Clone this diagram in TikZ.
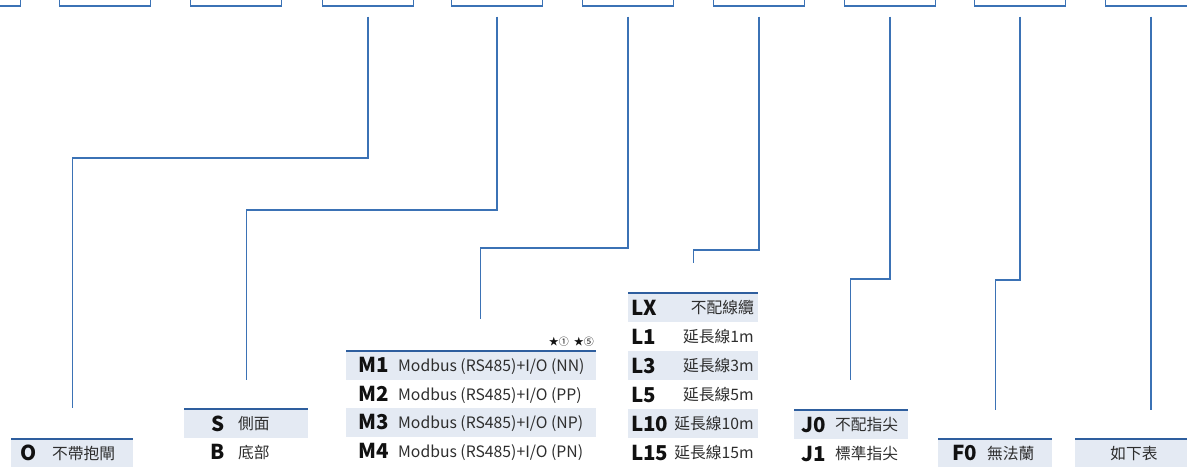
\documentclass[tikz,border=0pt]{standalone}
\usepackage{fontspec}
\newfontfamily\cjk{Noto Sans CJK TC}
\definecolor{lnblue}{HTML}{3B72B5}
\definecolor{tblue}{HTML}{2E5E9E}
\definecolor{rowbg}{HTML}{E4EAF3}
\definecolor{codec}{HTML}{111111}
\definecolor{descc}{HTML}{2E2E2E}
\begin{document}
\begin{tikzpicture}[x=1pt,y=-1pt,
  topbox/.style={draw=lnblue, line width=1.4pt, minimum width=91pt, minimum height=30pt, inner sep=0pt},
  conn/.style={draw=lnblue, line width=1.4pt},
  topline/.style={draw=tblue, line width=1.4pt},
  bgrow/.style={fill=rowbg, draw=none, inner sep=0pt, anchor=north west, minimum height=28.5pt},
  codetxt/.style={font=\cjk\bfseries\fontsize{20.5}{20.5}\selectfont, text=codec, inner sep=0pt, anchor=base west},
  desctxt/.style={font=\cjk\fontsize{15.75}{15.75}\selectfont, text=descc, inner sep=0pt, anchor=base west}
]
\useasboundingbox (0,0) rectangle (1187,467);
\clip (0,0) rectangle (1187,467);

% top boxes
\node[topbox] (b0) at (-25,-9) {};
\node[topbox] (b1) at (105,-9) {};
\node[topbox] (b2) at (236,-9) {};
\node[topbox] (b3) at (368,-9) {};
\node[topbox] (b4) at (497,-9) {};
\node[topbox] (b5) at (628,-9) {};
\node[topbox] (b6) at (759,-9) {};
\node[topbox] (b7) at (890,-9) {};
\node[topbox] (b8) at (1020,-9) {};
\node[topbox] (b9) at (1151,-9) {};

% O table
\node[bgrow, minimum width=122pt, minimum height=28pt] (tO) at (11,439) {};
\draw[topline] (tO.north west) -- (tO.north east);
\node[codetxt, anchor=base] (cO) at (29,460.5) {O};
\node[desctxt] (dO) at (52,459) {不帶抱閘};

% S/B table
\node[bgrow, minimum width=124pt] (tS) at (184,409) {};
\draw[topline] (tS.north west) -- (tS.north east);
\node[codetxt, anchor=base] (cS) at (218,431) {S};
\node[desctxt] (dS) at (238,429.5) {側面};
\node[codetxt, anchor=base] (cB) at (218,459.5) {B};
\node[desctxt] (dB) at (238,458) {底部};

% M table
\node[bgrow, minimum width=250pt] (tM1) at (346,351) {};
\node[bgrow, minimum width=250pt] (tM3) at (346,408) {};
\draw[topline] (tM1.north west) -- (tM1.north east);
\node[font=\cjk\fontsize{10}{10}\selectfont, text=codec, inner sep=0pt, anchor=base east] (stars) at (594,345) {★①\hspace{5pt}★⑤};
\node[codetxt] (cM1) at (358,372.75) {M1};
\node[desctxt] (dM1) at (398,371.5) {Modbus (RS485)+I/O (NN)};
\node[codetxt] (cM2) at (358,401.25) {M2};
\node[desctxt] (dM2) at (398,400) {Modbus (RS485)+I/O (PP)};
\node[codetxt] (cM3) at (358,429.75) {M3};
\node[desctxt] (dM3) at (398,428.5) {Modbus (RS485)+I/O (NP)};
\node[codetxt] (cM4) at (358,458.25) {M4};
\node[desctxt] (dM4) at (398,457) {Modbus (RS485)+I/O (PN)};

% L table
\node[bgrow, minimum width=130pt, minimum height=29pt] (tLX) at (628,293) {};
\node[bgrow, minimum width=130pt, minimum height=29pt] (tL3) at (628,351) {};
\node[bgrow, minimum width=130pt, minimum height=29pt] (tL10) at (628,409) {};
\draw[topline] (tLX.north west) -- (tLX.north east);
\node[codetxt] (cLX) at (631,315) {LX};
\node[desctxt, anchor=base east] (dLX) at (754,313.5) {不配線纜};
\node[codetxt] (cL1) at (631,344) {L1};
\node[desctxt, anchor=base east] (dL1) at (754,342.5) {延長線1m};
\node[codetxt] (cL3) at (631,373) {L3};
\node[desctxt, anchor=base east] (dL3) at (754,371.5) {延長線3m};
\node[codetxt] (cL5) at (631,402) {L5};
\node[desctxt, anchor=base east] (dL5) at (754,400.5) {延長線5m};
\node[codetxt] (cL10) at (631,431) {L10};
\node[desctxt, anchor=base east] (dL10) at (754,429.5) {延長線10m};
\node[codetxt] (cL15) at (631,460) {L15};
\node[desctxt, anchor=base east] (dL15) at (754,458.5) {延長線15m};

% J table
\node[bgrow, minimum width=114pt, minimum height=29pt] (tJ0) at (794,410) {};
\draw[topline] (tJ0.north west) -- (tJ0.north east);
\node[codetxt] (cJ0) at (801,432) {J0};
\node[desctxt] (dJ0) at (835,430.5) {不配指尖};
\node[codetxt] (cJ1) at (801,461) {J1};
\node[desctxt] (dJ1) at (835,459.5) {標準指尖};

% F table
\node[bgrow, minimum width=114pt, minimum height=28pt] (tF) at (938,439) {};
\draw[topline] (tF.north west) -- (tF.north east);
\node[codetxt] (cF0) at (952,460.5) {F0};
\node[desctxt] (dF0) at (987,459) {無法蘭};

% last table
\node[bgrow, minimum width=118pt, minimum height=28pt] (tT) at (1075,439) {};
\draw[topline] (tT.north west) -- (tT.north east);
\node[desctxt, anchor=base] (dT) at (1134,459) {如下表};

% connectors
\coordinate (k3) at (300,158);
\coordinate (k4) at (300,210);
\coordinate (k5) at (550,248);
\coordinate (k6) at (720,250);
\coordinate (k7) at (870,279);
\coordinate (k8) at (1005,280);
\draw[conn] ([yshift=-10pt]b3.south) |- (k3) -| ([yshift=31pt]tO.north);
\draw[conn] ([yshift=-10pt]b4.south) |- (k4) -| ([yshift=29pt]tS.north);
\draw[conn] ([yshift=-10pt]b5.south) |- (k5) -| ([xshift=9pt,yshift=32pt]tM1.north);
\draw[conn] ([yshift=-10pt]b6.south) |- (k6) -| ([yshift=30pt]tLX.north);
\draw[conn] ([yshift=-10pt]b7.south) |- (k7) -| ([xshift=-1pt,yshift=30pt]tJ0.north);
\draw[conn] ([yshift=-10pt]b8.south) |- (k8) -| ([yshift=29pt]tF.north);
\draw[conn] ([yshift=-10pt]b9.south) -- ([yshift=29pt]b9.south |- tT.north);
\end{tikzpicture}
\end{document}
